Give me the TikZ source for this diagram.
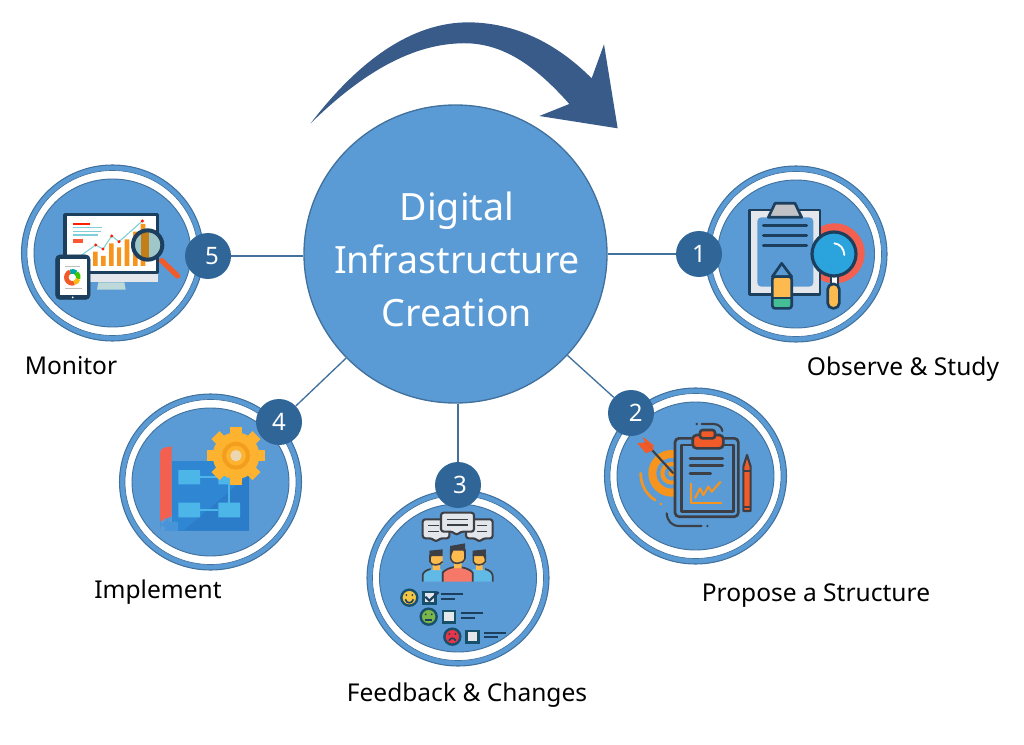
\documentclass[tikz,border=0pt]{standalone}
\usepackage{fontspec}
\setmainfont{Noto Sans}
\usetikzlibrary{shapes.geometric}
\definecolor{hubfill}{HTML}{5B9BD5}
\definecolor{hubline}{HTML}{41719C}
\definecolor{badgec}{HTML}{2F6597}
\definecolor{arrowc}{HTML}{385B8A}
\definecolor{navy}{HTML}{1D3F5E}
\definecolor{ink}{HTML}{3C4046}
\definecolor{paleg}{HTML}{E3E6EA}
\definecolor{yel}{HTML}{FDBB4F}
\definecolor{grn}{HTML}{45BE96}
\definecolor{tomato}{HTML}{F4604F}
\definecolor{sky}{HTML}{2BA3DC}
\definecolor{orng}{HTML}{F7941D}
\definecolor{redor}{HTML}{F15A29}
\definecolor{bp}{HTML}{2F86D3}
\definecolor{bpd}{HTML}{2B7DCA}
\definecolor{bpl}{HTML}{4DB6E8}
\definecolor{gear}{HTML}{FDB32F}
\definecolor{geard}{HTML}{F49E1D}
\definecolor{tealc}{HTML}{7FCFD8}
\definecolor{facey}{HTML}{F4C542}
\definecolor{faceg}{HTML}{7AB648}
\definecolor{facer}{HTML}{E53546}
\definecolor{faceline}{HTML}{17506B}
\tikzset{
  hubnode/.style={ellipse,draw=hubline,line width=1pt,fill=hubfill,inner sep=0pt,
    minimum width=227.25pt,minimum height=223.5pt},
  hubtext/.style={text=white,inner sep=0pt,align=center,font=\fontsize{28.2}{39.75}\selectfont},
  badge/.style={circle,fill=badgec,text=white,inner sep=0pt,minimum size=34.5pt,font=\fontsize{18}{20}\selectfont},
  lab/.style={text=black,inner sep=0pt,font=\fontsize{18.4}{22}\selectfont},
  conn/.style={draw=hubline,line width=1pt},
  zoomed/.style={x=0.25pt,y=-0.25pt},
  ic/.style={line width=2pt,line join=round,line cap=round},
}
\newcommand{\ringat}[2]{%
  \fill[hubfill,draw=hubline,line width=0.8pt] (#1,#2) ellipse (91 and 88);
  \fill[white,draw=hubline,line width=0.5pt] (#1,#2) ellipse (85.5 and 82.5);
  \fill[hubfill,draw=hubline,line width=0.7pt] (#1,#2) ellipse (78.5 and 74);
}
\begin{document}
\begin{tikzpicture}[x=0.75pt,y=-0.75pt]
\useasboundingbox (0,0) rectangle (1024,745);

% arrow
\begin{scope}[shift={(300,10)},zoomed]
\fill[arrowc] (32,340) .. controls (170,160) and (330,35) .. (510,37)
  .. controls (660,40) and (780,110) .. (875,205) -- (912,103) -- (953,355) -- (718,318) -- (808,282)
  .. controls (700,160) and (600,95) .. (480,100) .. controls (320,105) and (170,205) .. (32,340) -- cycle;
\end{scope}

% rings
\ringat{796}{254}
\ringat{695.5}{476}
\ringat{458}{578}
\ringat{210.5}{482}
\ringat{112.5}{253}

% icon 1
\begin{scope}[shift={(700,160)},zoomed]
\fill[tomato] (404,280) circle (90);
\draw[ic,navy,fill=paleg,line width=2.2pt] (148,150) rectangle (360,403);
\fill[hubfill,rounded corners=3pt] (172,172) rectangle (340,380);
\draw[ic,navy,fill=gray!35!paleg,line width=2pt] (205,172) -- (225,130) -- (285,130) -- (305,172) -- cycle;
\draw[ic,navy] (190,197) -- (320,197) (190,227) -- (320,227) (190,257) -- (320,257);
\draw[ic,navy,fill=hubfill] (217,350) -- (245,310) -- (275,350) -- cycle;
\fill[yel] (217,350) rectangle (275,415);
\fill[grn] (217,415) rectangle (275,442);
\draw[ic,navy,rounded corners=2pt] (217,350) -- (217,445) -- (275,445) -- (275,350) -- cycle;
\draw[ic,navy,line width=1.6pt] (217,415) -- (275,415);
\fill[white] (395,348) rectangle (410,375);
\draw[ic,navy,line width=1.5pt] (392,348) -- (392,375) (413,348) -- (413,375);
\draw[ic,navy,fill=yel,rounded corners=4pt] (383,372) rectangle (418,445);
\draw[ic,navy,fill=sky,line width=2.4pt] (402,282) circle (66);
\draw[white,line width=1.4pt,line cap=round] (403,250) .. controls (420,252) and (432,265) .. (433,285);
\end{scope}

% icon 2
\begin{scope}[shift={(600,385)},zoomed]
\draw[orng,line width=6pt] (215,265) circle (58);
\draw[orng,line width=3pt] (215,265) circle (28);
\fill[orng] (215,265) circle (10);
\draw[orng,line width=2pt,line cap=round] (122,265) .. controls (122,300) and (140,330) .. (165,345);
\fill[orng] (182,357) circle (4);
\draw[ink,line width=1.6pt] (135,172) -- (220,265);
\fill[redor] (112,175) -- (135,172) -- (160,195) -- (138,205) -- cycle;
\fill[redor] (135,172) -- (128,155) -- (160,180) -- (160,195) -- cycle;
\draw[ic,ink,fill=hubfill,rounded corners=3pt] (225,160) rectangle (415,395);
\draw[ic,ink] (245,180) rectangle (400,380);
\draw[ic,ink,fill=redor,rounded corners=3pt] (278,150) rectangle (370,190);
\draw[ic,ink,fill=redor,rounded corners=2pt] (300,135) rectangle (345,160);
\draw[ic,ink] (270,220) -- (368,220) (270,242) -- (368,242) (270,265) -- (332,265);
\draw[orng,line width=1.6pt,line join=round] (272,295) -- (272,353) -- (365,353);
\draw[orng,line width=1.6pt,line join=round] (285,340) -- (300,310) -- (310,330) -- (325,305) -- (335,320) -- (362,290);
\draw[ic,ink,fill=redor,line width=1.6pt] (430,378) -- (430,245) -- (441,210) -- (452,245) -- (452,378) -- cycle;
\draw[ink,line width=1.6pt] (430,258) -- (452,258) (430,365) -- (452,365);
\draw[ink,line width=1.6pt,line cap=round] (305,117) -- (340,117) .. controls (355,117) and (366,127) .. (367,138);
\fill[ink] (290,117) circle (4);
\draw[ink,line width=1.6pt,line cap=round] (200,385) .. controls (202,408) and (215,423) .. (238,423) -- (305,423);
\fill[ink] (322,423) circle (4);
\end{scope}

% icon 3
\begin{scope}[shift={(360,460)},zoomed]
\tikzset{bub/.style={ic,draw=ink,fill=paleg,rounded corners=2pt,line width=1.6pt}}
\draw[bub] (188,178) -- (268,178) -- (268,235) -- (240,235) -- (228,246) -- (216,235) -- (188,235) -- cycle;
\draw[bub] (318,178) -- (398,178) -- (398,235) -- (370,235) -- (358,246) -- (346,235) -- (318,235) -- cycle;
\draw[bub] (243,158) -- (342,158) -- (342,215) -- (302,215) -- (290,226) -- (278,215) -- (243,215) -- cycle;
\draw[ink,line width=1pt] (205,197) -- (236,197) (205,215) -- (236,215)
  (260,178) -- (325,178) (260,195) -- (325,195) (350,197) -- (382,197) (350,215) -- (382,215);
\fill[sky!75!white] (188,365) -- (188,345) .. controls (190,335) and (200,330) .. (212,327) -- (245,327) -- (245,365) -- cycle;
\fill[sky!75!white] (338,327) -- (375,327) .. controls (388,330) and (398,338) .. (398,348) -- (398,365) -- (338,365) -- cycle;
\fill[tomato!85!white] (248,365) -- (248,338) .. controls (255,330) and (265,325) .. (278,322) -- (305,322) .. controls (320,325) and (332,330) .. (338,338) -- (338,365) -- cycle;
\draw[ink,line width=1.3pt] (188,365) -- (188,345) .. controls (190,335) and (200,330) .. (212,327)
  (398,365) -- (398,348) .. controls (398,338) and (388,330) .. (375,327)
  (248,365) -- (248,338) .. controls (255,330) and (265,325) .. (278,322) -- (305,322) .. controls (320,325) and (332,330) .. (338,338) -- (338,365);
\fill[yel] (210,283) rectangle (248,312) (218,312) rectangle (240,330);
\fill[yel] (340,283) rectangle (376,312) (348,312) rectangle (368,330);
\fill[yel] (272,268) rectangle (315,305) (282,305) rectangle (305,325);
\fill[ink] (208,272) -- (248,268) -- (248,288) -- (215,288) -- (210,300) -- cycle;
\fill[ink] (338,272) -- (378,268) -- (376,300) -- (370,288) -- (338,288) -- cycle;
\fill[ink] (270,258) -- (315,250) -- (315,285) -- (310,272) -- (280,272) -- (272,290) -- cycle;
\draw[ink,line width=1.2pt] (210,283) -- (210,305) .. controls (212,318) and (240,318) .. (248,305)
  (340,283) -- (340,305) .. controls (342,318) and (370,318) .. (376,305) -- (376,283)
  (272,268) -- (272,295) .. controls (275,315) and (310,315) .. (315,295) -- (315,268);
\tikzset{face/.style={draw=faceline,line width=1.8pt}}
\draw[face,fill=facey] (148,413) circle (24);
\draw[face,fill=faceg] (206,470) circle (24);
\draw[face,fill=facer] (277,530) circle (24);
\fill[navy] (139,405) circle (3) (157,405) circle (3) (197,463) circle (3) (215,463) circle (3) (268,522) circle (3) (286,522) circle (3);
\draw[navy,line width=1.2pt] (136,418) .. controls (140,432) and (156,432) .. (160,418);
\draw[navy,line width=1.2pt] (196,480) -- (216,480);
\draw[navy,line width=1.2pt] (267,542) .. controls (272,532) and (282,532) .. (287,542);
\tikzset{chk/.style={draw=faceline,fill=paleg,line width=1.8pt}}
\draw[chk] (190,396) rectangle (226,431);
\draw[chk] (249,453) rectangle (285,488);
\draw[chk] (319,513) rectangle (355,548);
\draw[navy,line width=1.6pt] (196,410) -- (208,422) -- (236,396);
\draw[navy,line width=1.6pt] (243,403) -- (308,403) (243,418) -- (285,418)
  (302,460) -- (368,460) (302,473) -- (345,473)
  (372,518) -- (437,518) (372,532) -- (415,532);
\end{scope}

% icon 4
\begin{scope}[shift={(115,390)},zoomed]
\fill[bp] (170,212) rectangle (402,422);
\fill[bpd] (205,422) -- (402,255) -- (402,422) -- cycle;
\fill[tomato] (135,395) -- (135,190) .. controls (135,178) and (145,170) .. (170,170) -- (170,378) -- cycle;
\fill[bp!88!white,rounded corners=10pt] (135,385) rectangle (180,422);
\fill[bp!88!white] (150,395) rectangle (190,422);
\draw[bpl,line width=2pt] (255,261) -- (320,261) (342,283) -- (342,338) (255,360) -- (310,360);
\fill[bpl] (190,240) rectangle (255,283) (310,240) rectangle (375,283) (190,338) rectangle (255,382) (310,338) rectangle (375,382);
\foreach \a in {0,45,...,315}
  \fill[gear,rotate around={\a:(363,197)}] (346,110) rectangle (380,150);
\fill[gear] (363,197) circle (70);
\draw[geard,line width=3pt] (363,197) circle (36);
\fill[gear!30!paleg] (363,197) circle (17);
\end{scope}

% icon 5
\begin{scope}[shift={(15,160)},zoomed]
\fill[paleg] (225,338) rectangle (428,366);
\fill[gray!30!teal!30!white] (250,367) -- (328,367) -- (332,389) -- (246,389) -- cycle;
\draw[navy,fill=white,line width=2.4pt,line join=round] (150,164) rectangle (427,338);
\fill[red!75!orange] (175,190) rectangle (225,195);
\draw[tealc,line width=0.8pt] (175,203) -- (262,203) (175,214) -- (258,214) (175,225) -- (250,225);
\fill[red!65!orange!80!white] (175,238) rectangle (205,248);
\fill[orng] (234,275) rectangle (248,318) (258,288) rectangle (272,318) (282,250) rectangle (296,318)
  (306,262) rectangle (318,318) (329,238) rectangle (343,318) (354,215) rectangle (368,318) (377,192) rectangle (391,318);
\draw[tealc,line width=0.8pt] (200,285) -- (242,255) -- (264,267) -- (290,228) -- (312,245) -- (382,183);
\fill[red!80!orange] (242,255) circle (5) (264,267) circle (5) (290,228) circle (5) (312,245) circle (5) (382,183) circle (5);
\draw[redor,line width=4pt,line cap=round] (440,302) -- (488,348);
\fill[paleg!70!teal] (398,255) circle (44);
\begin{scope}
\clip (398,255) circle (44);
\fill[geard!80!black] (378,205) rectangle (403,305);
\end{scope}
\draw[navy,line width=3pt] (398,255) circle (44);
\draw[navy,fill=navy,rounded corners=3pt] (122,285) rectangle (225,418);
\fill[white] (135,298) rectangle (215,405);
\draw[gray!50,line width=0.4pt] (150,320) -- (195,320) (150,385) -- (200,385);
\draw[redor,line width=3.4pt] (172,352) ++(70:18) arc[start angle=70,end angle=250,radius=18];
\draw[teal!70!cyan,line width=3.4pt] (172,352) ++(250:18) arc[start angle=250,end angle=310,radius=18];
\draw[green!55!olive,line width=3.4pt] (172,352) ++(310:18) arc[start angle=310,end angle=375,radius=18];
\draw[geard!70!yellow,line width=3.4pt] (172,352) ++(15:18) arc[start angle=15,end angle=70,radius=18];
\fill[white] (173,412) circle (3);
\end{scope}

% hub + badges
\node[hubnode] (hub) at (455.5,254) {};
\node[hubtext] (hubt) at (457,259) {Digital\\Infrastructure\\Creation};
\node[badge] (b1) at (699,254) {1};
\node[badge] (b2) at (631,413) {\hspace{7pt}2};
\node[badge] (b3) at (458,485) {\hspace{3pt}3};
\node[badge] (b4) at (279,422) {4\hspace{3pt}};
\node[badge] (b5) at (208,256) {\hspace{6pt}5};

\draw[conn] (hub) -- (b1);
\draw[conn] (hub) -- (b2);
\draw[conn] (hub.south -| b3) -- (b3);
\draw[conn] (hub) -- (b4);
\draw[conn] (hub.west |- b5) -- (b5);

\node[lab] (l1) at (903,369) {Observe \& Study};
\node[lab] (l2) at (816,596) {Propose a Structure};
\node[lab] (l3) at (467,695) {Feedback \& Changes};
\node[lab] (l4) at (158,592) {Implement};
\node[lab] (l5) at (71,366) {Monitor};
\end{tikzpicture}
\end{document}
